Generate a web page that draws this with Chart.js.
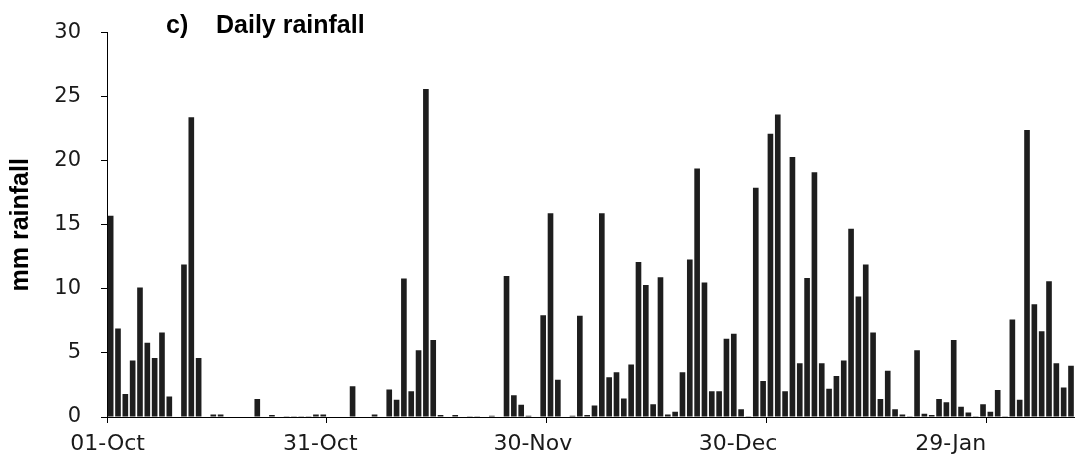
<!DOCTYPE html>
<html><head><meta charset="utf-8">
<script src="https://cdn.jsdelivr.net/npm/chart.js@4/dist/chart.umd.min.js"></script>
<style>html,body{margin:0;padding:0;background:#fff;}#wrap{position:relative;width:1079px;height:468px;}</style>
</head><body><div id="wrap"><canvas id="c" width="1079" height="468"></canvas></div>
<script>
// Categories: one per day, 01-Oct to 09-Feb
const monthNames = ['Oct', 'Nov', 'Dec', 'Jan', 'Feb'];
const monthLengths = [31, 30, 31, 31, 28];
const dayCount = 132;
const categories = [];
for (let m = 0; m < monthNames.length && categories.length < dayCount; m++) {
  for (let d = 1; d <= monthLengths[m] && categories.length < dayCount; d++) {
    categories.push(String(d).padStart(2, '0') + '-' + monthNames[m]);
  }
}
// Tick labels shown on x axis, tick-mark days, and the day slots where the labels sit in the picture
const tickLabels = ['01-Oct', '31-Oct', '30-Nov', '30-Dec', '29-Jan'];
const tickDays = [0, 30, 60, 90, 120];
const labelDays = [0, 29, 58, 86, 115];
const yTicks = [0, 5, 10, 15, 20, 25, 30];
// Daily rainfall (mm)
const rainfall = [
  15.7, 6.9, 1.8, 4.4, 10.1, 5.8, 4.6, 6.6, 1.6, 0,
  11.9, 23.4, 4.6, 0, 0.2, 0.2, 0, 0, 0, 0,
  1.4, 0, 0.15, 0, 0.05, 0.05, 0.05, 0.05, 0.2, 0.2,
  0, 0, 0, 2.4, 0, 0, 0.2, 0, 2.15, 1.35,
  10.8, 2.0, 5.2, 25.6, 6.0, 0.15, 0, 0.15, 0, 0.05,
  0.05, 0, 0.1, 0, 11.0, 1.7, 0.95, 0.1, 0, 7.95,
  15.9, 2.9, 0, 0.1, 7.9, 0.15, 0.9, 15.9, 3.1, 3.5,
  1.45, 4.1, 12.1, 10.3, 1.0, 10.9, 0.2, 0.4, 3.5, 12.3,
  19.4, 10.5, 2.0, 2.0, 6.1, 6.5, 0.6, 0.05, 17.9, 2.8,
  22.1, 23.6, 2.0, 20.3, 4.2, 10.85, 19.1, 4.2, 2.2, 3.2,
  4.4, 14.7, 9.4, 11.9, 6.6, 1.4, 3.6, 0.6, 0.2, 0.05,
  5.2, 0.25, 0.15, 1.4, 1.15, 6.0, 0.8, 0.35, 0.05, 1.0,
  0.4, 2.1, 0.05, 7.6, 1.35, 22.4, 8.8, 6.7, 10.6, 4.2,
  2.3, 4.0
];
const titleParts = ['c)', 'Daily rainfall'];
const yTitle = 'mm rainfall';

const yTickFont = { family: '"DejaVu Sans", sans-serif', size: 21 };
const xTickFont = { family: '"DejaVu Sans", sans-serif', size: 22 };

const titlePlugin = {
  id: 'panelTitle',
  afterDraw(chart) {
    const ctx = chart.ctx;
    ctx.save();
    ctx.fillStyle = '#000';
    ctx.font = 'bold 25px "Liberation Sans", Arial, sans-serif';
    ctx.textBaseline = 'alphabetic';
    ctx.fillText(titleParts[0], 166, 33);
    ctx.fillText(titleParts[1], 216, 33);
    ctx.restore();
  }
};

const onTick = (i) => tickDays.includes(i) ? '#000' : 'rgba(0,0,0,0)';

new Chart(document.getElementById('c'), {
  type: 'bar',
  data: {
    labels: categories,
    datasets: [{
      data: rainfall,
      backgroundColor: '#1e1e1e',
      borderWidth: 0,
      barPercentage: 0.77,
      categoryPercentage: 1.0
    }]
  },
  options: {
    responsive: false,
    animation: false,
    devicePixelRatio: 1,
    layout: { padding: { top: 25, right: 0, left: 0, bottom: 0 } },
    plugins: { legend: { display: false }, tooltip: { enabled: false } },
    scales: {
      x: {
        type: 'category',
        offset: true,
        afterFit(s) { s.height = 51; },
        border: { display: true, color: '#000', width: 1 },
        grid: {
          offset: true,
          drawOnChartArea: false,
          drawTicks: true,
          tickLength: 6,
          color: (c) => onTick(c.index),
          tickColor: (c) => onTick(c.index)
        },
        ticks: {
          autoSkip: false,
          maxRotation: 0,
          minRotation: 0,
          color: '#1a1a1a',
          font: xTickFont,
          padding: 8,
          labelOffset: -3,
          callback: (v, i) => {
            const k = labelDays.indexOf(i);
            return k >= 0 ? tickLabels[k] : '';
          }
        }
      },
      y: {
        min: 0,
        max: 30,
        afterFit(s) { s.width = 107; },
        afterBuildTicks(s) { s.ticks = yTicks.map(v => ({ value: v })); },
        border: { display: true, color: '#000', width: 1 },
        grid: { drawOnChartArea: false, drawTicks: true, tickLength: 6, color: '#000' },
        ticks: { color: '#1a1a1a', font: yTickFont, padding: 20 },
        title: {
          display: true,
          text: yTitle,
          color: '#000',
          font: { family: '"Liberation Sans", Arial, sans-serif', size: 25, weight: 'bold' },
          padding: { top: 6, bottom: 0 }
        }
      }
    }
  },
  plugins: [titlePlugin]
});
</script></body></html>
